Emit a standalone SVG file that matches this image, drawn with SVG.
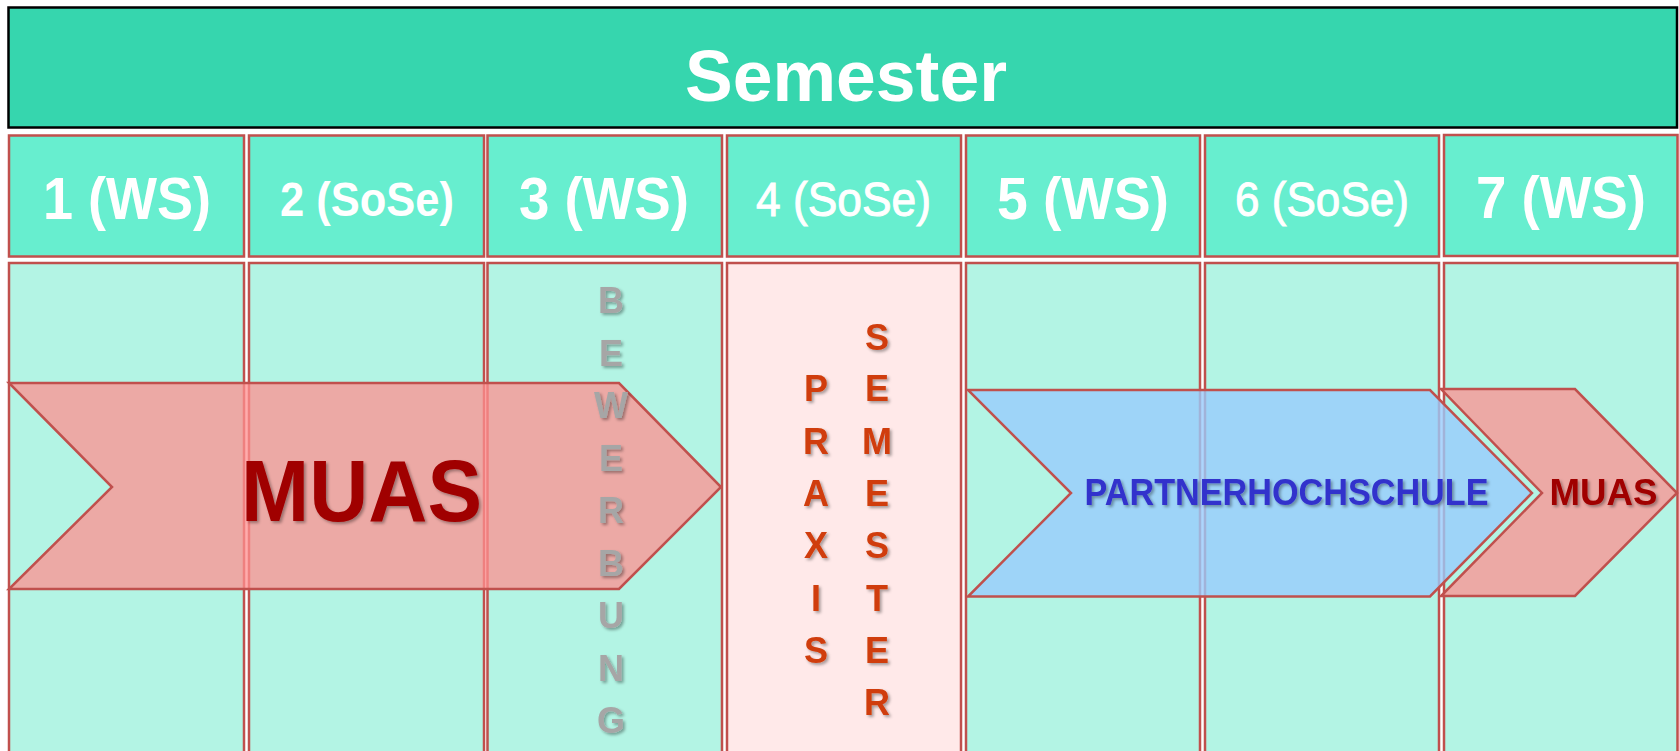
<svg xmlns="http://www.w3.org/2000/svg" width="1679" height="751" viewBox="0 0 1679 751">
<defs>
<filter id="sh" x="-20%" y="-20%" width="140%" height="140%">
<feDropShadow dx="2" dy="2" stdDeviation="1.4" flood-color="#000" flood-opacity="0.35"/>
</filter>
<style>
.hd{fill:#67eecf;stroke:#c0504d;stroke-width:2.5}
.bd{fill:#b3f4e4;stroke:#c0504d;stroke-width:2.5}
.bdp{fill:#ffe9e9;stroke:#c0504d;stroke-width:2.5}
.t{font-family:"Liberation Sans",Arial,sans-serif;font-weight:bold;text-anchor:middle}
.w{fill:#ffffff}
.reg{font-weight:normal;stroke:#ffffff;stroke-width:1}
.arr-r{fill:#ff9090;fill-opacity:0.75;stroke:#c0504d;stroke-width:2.5;stroke-linejoin:miter}
.arr-b{fill:#99ccfc;fill-opacity:0.8;stroke:#c0504d;stroke-width:2.5}
.gr{fill:#a6a6a6;font-size:36px}
.or{fill:#d03c0a;font-size:36px}
</style>
</defs>
<rect width="1679" height="751" fill="#ffffff"/>
<g id="header">
<rect x="8.5" y="7.5" width="1668.5" height="120" fill="#36d6ae" stroke="#000" stroke-width="2.5"/>
<text class="t w" x="846" y="101" font-size="72" textLength="322" lengthAdjust="spacingAndGlyphs">Semester</text>
</g>
<g id="sem1"><rect class="hd" x="9" y="135.5" width="235" height="121"/><text class="t w" x="127" y="219" font-size="60" textLength="168" lengthAdjust="spacingAndGlyphs">1 (WS)</text></g>
<g id="sem2"><rect class="hd" x="249" y="135.5" width="235" height="121"/><text class="t w" x="367" y="216" font-size="48" textLength="174" lengthAdjust="spacingAndGlyphs">2 (SoSe)</text></g>
<g id="sem3"><rect class="hd" x="487.5" y="135.5" width="234.5" height="121"/><text class="t w" x="604" y="219" font-size="60" textLength="170" lengthAdjust="spacingAndGlyphs">3 (WS)</text></g>
<g id="sem4"><rect class="hd" x="727" y="135.5" width="234" height="121"/><text class="t w reg" x="843.5" y="216" font-size="49" textLength="175" lengthAdjust="spacingAndGlyphs">4 (SoSe)</text></g>
<g id="sem5"><rect class="hd" x="966" y="135.5" width="234" height="121"/><text class="t w" x="1083" y="219" font-size="60" textLength="172" lengthAdjust="spacingAndGlyphs">5 (WS)</text></g>
<g id="sem6"><rect class="hd" x="1205" y="135.5" width="234" height="121"/><text class="t w reg" x="1322" y="216" font-size="49" textLength="174" lengthAdjust="spacingAndGlyphs">6 (SoSe)</text></g>
<g id="sem7"><rect class="hd" x="1444" y="135" width="233.5" height="121"/><text class="t w" x="1561" y="218" font-size="60" textLength="170" lengthAdjust="spacingAndGlyphs">7 (WS)</text></g>
<g id="body1"><rect class="bd" x="9" y="263" width="235" height="500"/></g>
<g id="body2"><rect class="bd" x="249" y="263" width="235" height="500"/></g>
<g id="body3"><rect class="bd" x="487.5" y="263" width="234.5" height="500"/></g>
<g id="body4"><rect class="bdp" x="727" y="263" width="234" height="500"/></g>
<g id="body5"><rect class="bd" x="966" y="263" width="234" height="500"/></g>
<g id="body6"><rect class="bd" x="1205" y="263" width="234" height="500"/></g>
<g id="body7"><rect class="bd" x="1444" y="263" width="233.5" height="500"/></g>
<g id="muas-arrow">
<polygon class="arr-r" points="9,383 619,383 721,487 619,589 9,589 112,487"/>
<text class="t" x="361.5" y="521" font-size="87" fill="#a00000" filter="url(#sh)" textLength="241" lengthAdjust="spacingAndGlyphs">MUAS</text>
</g>
<g id="bewerbung" class="t gr" filter="url(#sh)">
<text x="611" y="313">B</text>
<text x="611" y="365.5">E</text>
<text x="611" y="418">W</text>
<text x="611" y="470.5">E</text>
<text x="611" y="523">R</text>
<text x="611" y="575.5">B</text>
<text x="611" y="628">U</text>
<text x="611" y="680.5">N</text>
<text x="611" y="733">G</text>
</g>
<g id="praxissemester" class="t or" filter="url(#sh)">
<text x="816" y="401">P</text>
<text x="816" y="453.5">R</text>
<text x="816" y="506">A</text>
<text x="816" y="558">X</text>
<text x="816" y="610.5">I</text>
<text x="816" y="663">S</text>
<text x="877" y="349.5">S</text>
<text x="877" y="401">E</text>
<text x="877" y="453.5">M</text>
<text x="877" y="506">E</text>
<text x="877" y="558">S</text>
<text x="877" y="610.5">T</text>
<text x="877" y="663">E</text>
<text x="877" y="715">R</text>
</g>
<g id="partner-arrow">
<polygon class="arr-b" points="968,390 1430,390 1532,493 1430,596.5 968,596.5 1071,493"/>
<text class="t" x="1286.5" y="505" font-size="37" fill="#3333cc" filter="url(#sh)" textLength="404" lengthAdjust="spacingAndGlyphs">PARTNERHOCHSCHULE</text>
</g>
<g id="muas-arrow-2">
<polygon class="arr-r" points="1441,389 1575,389 1677,493 1575,596 1441,596 1542,493"/>
<text class="t" x="1603.5" y="505" font-size="36" fill="#a00000" filter="url(#sh)" textLength="108" lengthAdjust="spacingAndGlyphs">MUAS</text>
</g>
<g id="connectors"></g>
</svg>
